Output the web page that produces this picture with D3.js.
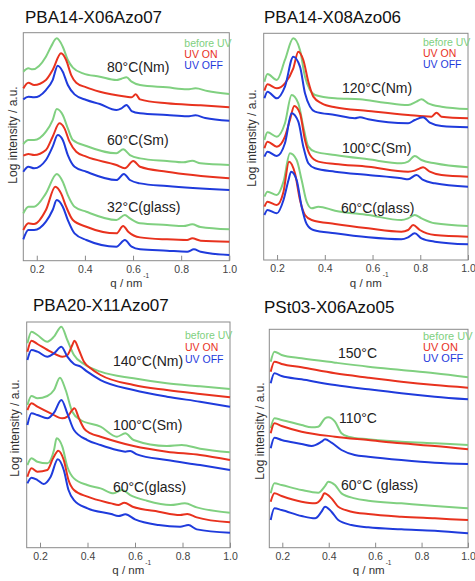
<!DOCTYPE html>
<html>
<head>
<meta charset="utf-8">
<script src="https://cdn.jsdelivr.net/npm/d3@7"></script>
<style>
body { margin: 0; background: #fff; }
</style>
</head>
<body>
<div id="chart"></div>
<script>
var FONT = "Liberation Sans, Arial, Helvetica, sans-serif";

var seriesNames = ["before UV", "UV ON", "UV OFF"];
var seriesColors = ["#80d080", "#e8321e", "#1f3bdc"];
var qTicks = [0.2, 0.4, 0.6, 0.8, 1.0];
var qMin = 0.144, qMax = 1.0;

// ---- PBA14-X06Azo07 ----  [q, log intensity (a.u.)]
var p1_80_before = [[0.144,567],[0.165,577],[0.182,574],[0.238,612],[0.259,642],[0.283,667],[0.308,642],[0.329,602],[0.35,579],[0.392,562],[0.462,552],[0.531,542],[0.552,546],[0.573,550],[0.594,537],[0.629,527],[0.741,520],[0.825,514],[0.86,517],[0.909,509],[1.0,500]];
var p1_80_on = [[0.144,517],[0.165,534],[0.189,527],[0.238,542],[0.266,572],[0.301,622],[0.322,602],[0.343,557],[0.364,534],[0.406,520],[0.462,507],[0.573,492],[0.594,490],[0.611,499],[0.629,484],[0.741,472],[0.881,466],[1.0,460]];
var p1_80_off = [[0.144,484],[0.165,492],[0.189,490],[0.238,512],[0.266,542],[0.287,585],[0.308,567],[0.329,527],[0.357,499],[0.406,482],[0.462,470],[0.531,452],[0.552,457],[0.573,467],[0.594,449],[0.629,442],[0.741,437],[0.825,433],[0.86,436],[0.9,428],[1.0,420]];
var p1_60_before = [[0.144,350],[0.165,362],[0.189,362],[0.238,387],[0.266,422],[0.283,455],[0.308,437],[0.329,397],[0.35,362],[0.406,344],[0.531,322],[0.559,334],[0.587,317],[0.629,307],[0.741,299],[0.81,295],[0.846,300],[0.88,292],[1.0,287]];
var p1_60_on = [[0.144,315],[0.165,320],[0.189,317],[0.238,332],[0.266,372],[0.294,412],[0.315,397],[0.336,357],[0.364,327],[0.406,312],[0.531,287],[0.566,277],[0.601,299],[0.629,282],[0.741,267],[1.0,247]];
var p1_60_off = [[0.144,267],[0.165,282],[0.189,277],[0.238,302],[0.266,342],[0.287,377],[0.308,362],[0.329,317],[0.357,282],[0.406,267],[0.531,242],[0.562,260],[0.587,242],[0.629,232],[0.741,224],[1.0,212]];
var p1_32_before = [[0.144,142],[0.165,162],[0.189,162],[0.238,202],[0.283,260],[0.308,237],[0.329,197],[0.357,162],[0.406,147],[0.531,122],[0.566,137],[0.587,127],[0.629,112],[0.741,107],[0.81,104],[0.846,109],[0.88,101],[1.0,94]];
var p1_32_on = [[0.144,92],[0.165,112],[0.189,110],[0.238,152],[0.277,222],[0.301,202],[0.322,162],[0.35,122],[0.406,102],[0.531,82],[0.559,104],[0.58,87],[0.629,70],[0.741,64],[0.825,62],[0.846,67],[0.881,60],[1.0,57]];
var p1_32_off = [[0.144,64],[0.165,92],[0.189,92],[0.238,117],[0.266,152],[0.283,182],[0.308,162],[0.329,122],[0.357,82],[0.406,62],[0.531,42],[0.566,62],[0.594,42],[0.629,34],[0.741,30],[0.825,27],[0.853,34],[0.881,27],[1.0,17]];

// ---- PBA14-X08Azo06 ----
var p2_120_before = [[0.147,535],[0.16,558],[0.199,540],[0.233,600],[0.268,665],[0.296,630],[0.317,550],[0.338,510],[0.359,495],[0.443,485],[0.547,482],[0.652,472],[0.749,465],[0.784,475],[0.805,482],[0.833,470],[0.889,460],[1.0,453]];
var p2_120_on = [[0.147,508],[0.16,527],[0.199,515],[0.233,530],[0.268,575],[0.289,625],[0.31,600],[0.331,535],[0.352,490],[0.387,470],[0.443,458],[0.582,447],[0.749,435],[0.847,430],[0.868,442],[0.889,430],[1.0,425]];
var p2_120_off = [[0.147,485],[0.16,505],[0.199,485],[0.233,520],[0.268,610],[0.296,580],[0.317,500],[0.338,460],[0.359,445],[0.443,435],[0.526,425],[0.547,428],[0.582,422],[0.749,410],[0.777,420],[0.812,428],[0.84,412],[0.889,402],[1.0,398]];
var p2_100_before = [[0.147,360],[0.16,383],[0.199,370],[0.233,410],[0.261,495],[0.289,470],[0.31,400],[0.331,340],[0.359,325],[0.443,315],[0.582,302],[0.721,290],[0.749,295],[0.777,312],[0.805,300],[0.861,290],[1.0,278]];
var p2_100_on = [[0.147,335],[0.16,355],[0.199,340],[0.233,370],[0.254,420],[0.272,462],[0.296,440],[0.317,360],[0.338,315],[0.373,295],[0.443,288],[0.582,280],[0.749,265],[0.777,268],[0.798,275],[0.812,278],[0.84,265],[0.889,255],[1.0,250]];
var p2_100_off = [[0.147,310],[0.16,325],[0.199,312],[0.233,350],[0.261,440],[0.289,415],[0.31,340],[0.331,290],[0.359,275],[0.443,265],[0.582,255],[0.721,245],[0.749,242],[0.784,255],[0.812,240],[0.861,230],[1.0,220]];
var p2_60_before = [[0.147,190],[0.16,205],[0.199,195],[0.227,235],[0.254,320],[0.282,300],[0.303,240],[0.324,175],[0.345,155],[0.373,160],[0.443,148],[0.582,135],[0.721,120],[0.749,125],[0.777,135],[0.805,125],[0.861,110],[1.0,102]];
var p2_60_on = [[0.147,160],[0.16,175],[0.199,165],[0.227,205],[0.25,295],[0.275,260],[0.296,180],[0.317,135],[0.345,120],[0.443,108],[0.582,95],[0.721,85],[0.749,90],[0.77,105],[0.798,90],[0.861,75],[1.0,70]];
var p2_60_off = [[0.147,135],[0.16,150],[0.199,140],[0.227,180],[0.248,240],[0.259,265],[0.282,240],[0.303,160],[0.324,108],[0.352,90],[0.443,80],[0.582,68],[0.721,62],[0.749,68],[0.777,80],[0.805,65],[0.861,55],[1.0,47]];

// ---- PBA20-X11Azo07 ----
var p3_140_before = [[0.147,613],[0.164,648],[0.189,638],[0.231,618],[0.259,633],[0.29,663],[0.315,623],[0.343,578],[0.385,551],[0.455,528],[0.594,508],[0.734,493],[0.874,484],[1.0,476]];
var p3_140_on = [[0.147,588],[0.164,621],[0.189,611],[0.245,588],[0.294,573],[0.315,578],[0.336,608],[0.345,621],[0.364,593],[0.385,558],[0.413,538],[0.455,518],[0.594,488],[0.734,473],[0.874,461],[1.0,451]];
var p3_140_off = [[0.147,563],[0.164,593],[0.189,588],[0.231,573],[0.259,583],[0.29,603],[0.315,573],[0.343,551],[0.371,543],[0.399,528],[0.455,503],[0.594,473],[0.734,453],[0.874,438],[1.0,423]];
var p3_100_before = [[0.147,428],[0.164,455],[0.189,448],[0.231,455],[0.259,473],[0.284,510],[0.308,473],[0.336,408],[0.371,383],[0.455,363],[0.524,333],[0.559,343],[0.594,323],[0.734,305],[0.797,308],[0.874,297],[1.0,286]];
var p3_100_on = [[0.147,413],[0.164,433],[0.189,423],[0.245,403],[0.294,388],[0.315,393],[0.336,413],[0.345,418],[0.364,388],[0.385,358],[0.413,343],[0.455,333],[0.594,305],[0.734,288],[0.874,278],[1.0,263]];
var p3_100_off = [[0.147,368],[0.164,403],[0.189,398],[0.231,388],[0.259,405],[0.29,443],[0.315,403],[0.343,353],[0.399,323],[0.455,308],[0.524,293],[0.559,288],[0.58,290],[0.608,280],[0.734,263],[0.874,248],[1.0,233]];
var p3_60_before = [[0.147,248],[0.164,268],[0.189,258],[0.231,253],[0.259,293],[0.27,328],[0.294,303],[0.315,243],[0.343,208],[0.399,188],[0.455,178],[0.51,163],[0.545,173],[0.58,158],[0.65,141],[0.75,128],[0.81,133],[0.86,121],[1.0,105]];
var p3_60_on = [[0.147,213],[0.164,238],[0.189,228],[0.231,233],[0.255,268],[0.277,291],[0.3,263],[0.32,203],[0.343,173],[0.4,153],[0.5,133],[0.53,128],[0.555,135],[0.59,123],[0.7,108],[0.79,98],[0.82,101],[0.86,91],[1.0,76]];
var p3_60_off = [[0.147,193],[0.164,210],[0.189,203],[0.215,191],[0.245,213],[0.275,265],[0.3,233],[0.32,173],[0.343,143],[0.4,118],[0.5,101],[0.53,95],[0.56,100],[0.6,85],[0.7,68],[0.79,63],[0.825,68],[0.86,55],[1.0,45]];

// ---- PSt03-X06Azo05 ----
var p4_150_before = [[0.15,558],[0.166,588],[0.197,578],[0.283,568],[0.427,555],[0.57,543],[0.713,533],[0.857,523],[1.0,511]];
var p4_150_on = [[0.15,528],[0.166,558],[0.197,551],[0.283,541],[0.427,523],[0.57,510],[0.713,498],[0.857,488],[1.0,480]];
var p4_150_off = [[0.15,493],[0.166,523],[0.197,515],[0.283,505],[0.427,488],[0.57,475],[0.713,463],[0.857,453],[1.0,445]];
var p4_110_before = [[0.15,358],[0.166,388],[0.197,383],[0.283,368],[0.326,361],[0.355,363],[0.384,388],[0.398,391],[0.427,378],[0.455,343],[0.484,333],[0.57,325],[0.713,318],[0.857,313],[1.0,308]];
var p4_110_on = [[0.15,343],[0.166,373],[0.197,365],[0.283,348],[0.427,333],[0.57,323],[0.713,313],[0.857,305],[1.0,295]];
var p4_110_off = [[0.15,298],[0.166,330],[0.197,323],[0.283,311],[0.326,305],[0.369,318],[0.384,325],[0.412,315],[0.455,293],[0.512,278],[0.57,273],[0.713,263],[0.857,255],[1.0,251]];
var p4_60_before = [[0.15,163],[0.166,193],[0.197,188],[0.283,173],[0.355,165],[0.384,185],[0.398,198],[0.427,188],[0.455,163],[0.512,148],[0.57,141],[0.713,133],[0.857,125],[1.0,118]];
var p4_60_on = [[0.15,138],[0.166,163],[0.197,155],[0.283,138],[0.341,133],[0.369,148],[0.381,163],[0.412,148],[0.441,123],[0.498,108],[0.57,101],[0.713,93],[0.857,88],[1.0,83]];
var p4_60_off = [[0.15,83],[0.166,118],[0.197,113],[0.283,95],[0.341,88],[0.369,108],[0.384,123],[0.412,108],[0.441,83],[0.498,68],[0.57,61],[0.713,55],[0.857,51],[1.0,43]];

var panels = [
  { title: "PBA14-X06Azo07", tx: 25, ty: 23,
    box: {l: 23.3, r: 229.3, t: 32.7, b: 260.7}, yMax: 684,
    ylab: {x: 13, y: 135}, legY: [46.5, 57.5, 68.5], legSize: 10.5,
    groups: [
      {label: "80°C(Nm)", at: [0.492, 567], s: [p1_80_before, p1_80_on, p1_80_off]},
      {label: "60°C(Sm)", at: [0.492, 347], s: [p1_60_before, p1_60_on, p1_60_off]},
      {label: "32°C(glass)", at: [0.492, 147], s: [p1_32_before, p1_32_on, p1_32_off]}
    ]},
  { title: "PBA14-X08Azo06", tx: 264, ty: 23,
    box: {l: 263.7, r: 468, t: 33.3, b: 260}, yMax: 680,
    ylab: {x: 252, y: 138}, legY: [46, 57, 67.5], legSize: 10.5,
    groups: [
      {label: "120°C(Nm)", at: [0.472, 500], s: [p2_120_before, p2_120_on, p2_120_off]},
      {label: "100°C(Sm)", at: [0.472, 322], s: [p2_100_before, p2_100_on, p2_100_off]},
      {label: "60°C(glass)", at: [0.468, 141], s: [p2_60_before, p2_60_on, p2_60_off]}
    ]},
  { title: "PBA20-X11Azo07", tx: 33, ty: 311,
    box: {l: 26.7, r: 230, t: 322, b: 547.7}, yMax: 677,
    ylab: {x: 15, y: 428}, legY: [338.5, 351, 363], legSize: 10.5,
    groups: [
      {label: "140°C(Nm)", at: [0.507, 545], s: [p3_140_before, p3_140_on, p3_140_off]},
      {label: "100°C(Sm)", at: [0.507, 353], s: [p3_100_before, p3_100_on, p3_100_off]},
      {label: "60°C(glass)", at: [0.507, 168], s: [p3_60_before, p3_60_on, p3_60_off]}
    ]},
  { title: "PSt03-X06Azo05", tx: 264, ty: 313,
    box: {l: 269.3, r: 468, t: 329.3, b: 547.7}, yMax: 655,
    ylab: {x: 260, y: 431}, legY: [339.5, 351, 362], legSize: 11,
    groups: [
      {label: "150°C", at: [0.44, 568], s: [p4_150_before, p4_150_on, p4_150_off]},
      {label: "110°C", at: [0.444, 374], s: [p4_110_before, p4_110_on, p4_110_off]},
      {label: "60°C (glass)", at: [0.453, 173], s: [p4_60_before, p4_60_on, p4_60_off]}
    ]}
];

var svg = d3.select("#chart")
    .append("svg")
    .attr("width", 475)
    .attr("height", 581)
    .attr("font-family", FONT);

panels.forEach(function(p) {
  var x = d3.scaleLinear().domain([qMin, qMax]).range([p.box.l, p.box.r]);
  var y = d3.scaleLinear().domain([0, p.yMax]).range([p.box.b, p.box.t]);
  var g = svg.append("g");

  g.append("text")
    .attr("x", p.tx).attr("y", p.ty)
    .attr("font-size", 17).attr("fill", "#111")
    .text(p.title);

  g.append("rect")
    .attr("x", p.box.l).attr("y", p.box.t)
    .attr("width", p.box.r - p.box.l).attr("height", p.box.b - p.box.t)
    .attr("fill", "none").attr("stroke", "#8a8a8a").attr("stroke-width", 1);

  var axis = d3.axisBottom(x)
    .tickValues(qTicks)
    .tickFormat(d3.format(".1f"))
    .tickSizeInner(-5).tickSizeOuter(0).tickPadding(5);
  var axg = g.append("g")
    .attr("transform", `translate(0,${p.box.b})`)
    .call(axis)
    .attr("font-family", FONT).attr("font-size", 10.5);
  axg.select(".domain").remove();
  axg.selectAll("line").attr("stroke", "#8a8a8a");
  axg.selectAll("text").attr("fill", "#444");

  // x label, superscript "-1" drawn as its own small text above the end of "nm"
  var cx = (p.box.l + p.box.r) / 2;
  g.append("text")
    .attr("x", cx).attr("y", p.box.b + 26.5)
    .attr("text-anchor", "middle").attr("font-size", 11.5).attr("fill", "#333")
    .text("q / nm");
  g.append("text")
    .attr("x", cx + 17).attr("y", p.box.b + 17)
    .attr("font-size", 6.5).attr("fill", "#333")
    .text("-1");

  g.append("text")
    .attr("transform", `translate(${p.ylab.x + 4},${p.ylab.y}) rotate(-90)`)
    .attr("text-anchor", "middle").attr("font-size", 12).attr("fill", "#333")
    .text("Log intensity / a.u.");

  var line = d3.line()
    .x(d => x(d[0]))
    .y(d => y(d[1]))
    .curve(d3.curveMonotoneX);

  p.groups.forEach(function(grp) {
    grp.s.forEach(function(ser, i) {
      g.append("path")
        .datum(ser)
        .attr("d", line)
        .attr("fill", "none")
        .attr("stroke", seriesColors[i])
        .attr("stroke-width", 2)
        .attr("stroke-linejoin", "round");
    });
    g.append("text")
      .attr("x", x(grp.at[0])).attr("y", y(grp.at[1]))
      .attr("font-size", 14).attr("fill", "#222")
      .text(grp.label);
  });

  seriesNames.forEach(function(name, i) {
    g.append("text")
      .attr("x", p.box.r - 45).attr("y", p.legY[i])
      .attr("font-size", p.legSize).attr("fill", seriesColors[i])
      .text(name);
  });
});
</script>
</body>
</html>
